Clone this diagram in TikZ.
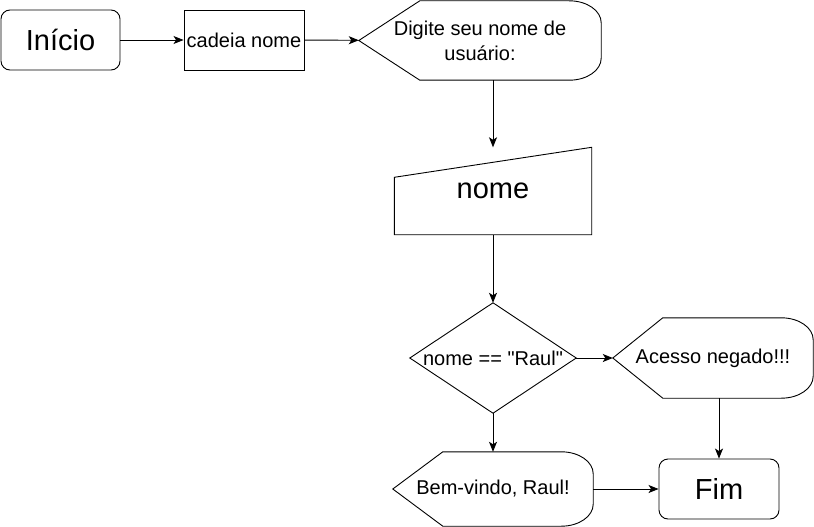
\documentclass[tikz,border=0pt]{standalone}
\usepackage{fontspec}
\setmainfont{Liberation Sans}[Ligatures=TeXOff]
\usetikzlibrary{arrows.meta}

\tikzset{
  txt/.style={font=\fontsize{20}{25}\selectfont},
  big/.style={font=\fontsize{29}{34}\selectfont},
  box/.style={rectangle, inner sep=0pt, align=center},
  term/.style={box, draw, line width=0.9pt, rounded corners=9pt, minimum width=119pt, minimum height=60pt, big},
  proc/.style={box, draw, line width=0.9pt, minimum width=120pt, minimum height=60pt, txt},
  outl/.style={draw, line width=0.9pt},
  conn/.style={-{Stealth[length=10pt,width=8pt,inset=2.5pt]}, line width=0.9pt},
}

% display shape drawn round a plain box node
\newcommand{\dispout}[2]{%
  \draw[outl] (#1.west) -- ([xshift=#2]#1.north west) -- ([xshift=-32]#1.north east)
    .. controls ([xshift=-14]#1.north east) and ([yshift=-10]#1.north east) .. ([yshift=-22]#1.north east)
    -- ([yshift=22]#1.south east)
    .. controls ([yshift=10]#1.south east) and ([xshift=-14]#1.south east) .. ([xshift=-32]#1.south east)
    -- ([xshift=#2]#1.south west) -- cycle;}

\begin{document}
\begin{tikzpicture}[x=1pt, y=-1pt]
\useasboundingbox (0,0) rectangle (814,527);

\node[term] (inicio) at (60.5, 40) {Início};
\node[proc] (cadeia) at (244, 40) {cadeia nome};
\node[box, txt, minimum width=242pt, minimum height=79pt] (digite) at (480, 40.5) {Digite seu nome de\\usuário:};
\dispout{digite}{61}

\node[box, big, minimum width=197pt, minimum height=87pt] (nome) at (493, 191) {nome};
\draw[outl] (nome.south west) -- ([yshift=-30]nome.north west) -- (nome.north east) -- (nome.south east) -- cycle;

\node[box, txt, minimum width=166pt, minimum height=110pt] (teste) at (493, 358) {nome == "Raul"};
\draw[outl] (teste.north) -- (teste.east) -- (teste.south) -- (teste.west) -- cycle;

\node[box, txt, minimum width=200pt, minimum height=80pt] (acesso) at (713, 358) {Acesso negado!!!};
\dispout{acesso}{50}

\node[box, txt, minimum width=200pt, minimum height=74pt] (bemvindo) at (493, 489) {Bem-vindo, Raul!};
\dispout{bemvindo}{50}

\node[term, minimum width=120pt] (fim) at (719, 489) {Fim};

\draw[conn] (inicio) -- (cadeia);
\draw[conn] (cadeia) -- (digite);
\draw[conn] (nome.north |- digite.south) -- (nome.north);
\draw[conn] (nome) -- (teste);
\draw[conn] (teste) -- (acesso);
\draw[conn] (teste) -- (bemvindo);
\draw[conn] (fim.north |- acesso.south) -- (fim.north);
\draw[conn] (bemvindo) -- (fim);

\end{tikzpicture}
\end{document}
